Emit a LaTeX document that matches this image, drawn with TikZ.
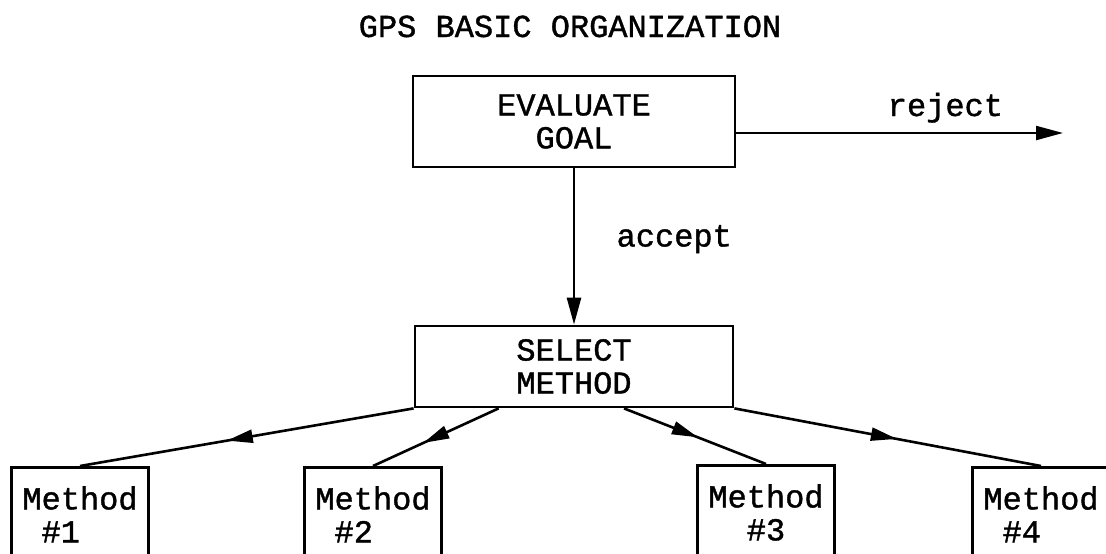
\documentclass[tikz,border=0pt]{standalone}
\usepackage{fontspec}
\setmonofont{Liberation Mono}[FakeBold=1.2]
\usetikzlibrary{arrows.meta,decorations.markings,calc}

\begin{document}
\begin{tikzpicture}[x=1pt,y=-1pt,
  font=\ttfamily\fontsize{32}{33}\selectfont,
  box/.style={draw, line width=2.8pt, align=center, inner sep=0pt},
  methodbox/.style={draw, line width=2.8pt, align=left, anchor=north,
    minimum width=137pt, text height=53pt, text depth=40pt,
    inner ysep=22pt, inner xsep=0pt},
  link/.style={line width=2.6pt},
  tip/.style={-{Triangle[length=27pt,width=14pt]}},
  midtip/.style={postaction={decorate}, decoration={markings,
    mark=at position #1 with {\arrow{Triangle[length=26pt,width=13pt]}}}},
]
\useasboundingbox (0,0) rectangle (1106,554);

% heading
\node (title) [anchor=base] at (570,37) {GPS BASIC ORGANIZATION};

% main blocks
\node (eval) [box, minimum width=322pt, minimum height=91pt] at (574,121.5)
  {EVALUATE\\GOAL};
\node (sel) [box, minimum width=318pt, minimum height=81pt] at (574,366.5)
  {SELECT\\METHOD};

% methods
\node (m1) [methodbox] at (80,466)   {Method\\\hphantom{M}\#1};
\node (m2) [methodbox] at (373,466)  {Method\\\hphantom{M}\#2};
\node (m3) [methodbox] at (766,464)  {Method\\\hphantom{MM}\#3};
\node (m4) [methodbox] at (1041,466) {Method\\\hphantom{M}\#4};

% outcome of the evaluation
\coordinate (out) at (1063,133);
\draw[link, line width=2.2pt, tip] (eval.east |- out) -- (out)
  node[pos=0.45, anchor=base west, yshift=17pt] {reject};
\draw[link, tip] (eval.south) -- (sel.north)
  node[pos=0.5, anchor=base west, xshift=38pt] {accept};

% branches to the methods
\draw[link, midtip=0.56] (sel.south west) -- (m1.north);
\draw[link, midtip=0.6]  ($(sel.south west)+(85,0)$) -- (m2.north);
\draw[link, midtip=0.52] ($(sel.south)+(50,0)$) -- (m3.north);
\draw[link, midtip=0.53] (sel.south east) -- (m4.north);
\end{tikzpicture}
\end{document}
